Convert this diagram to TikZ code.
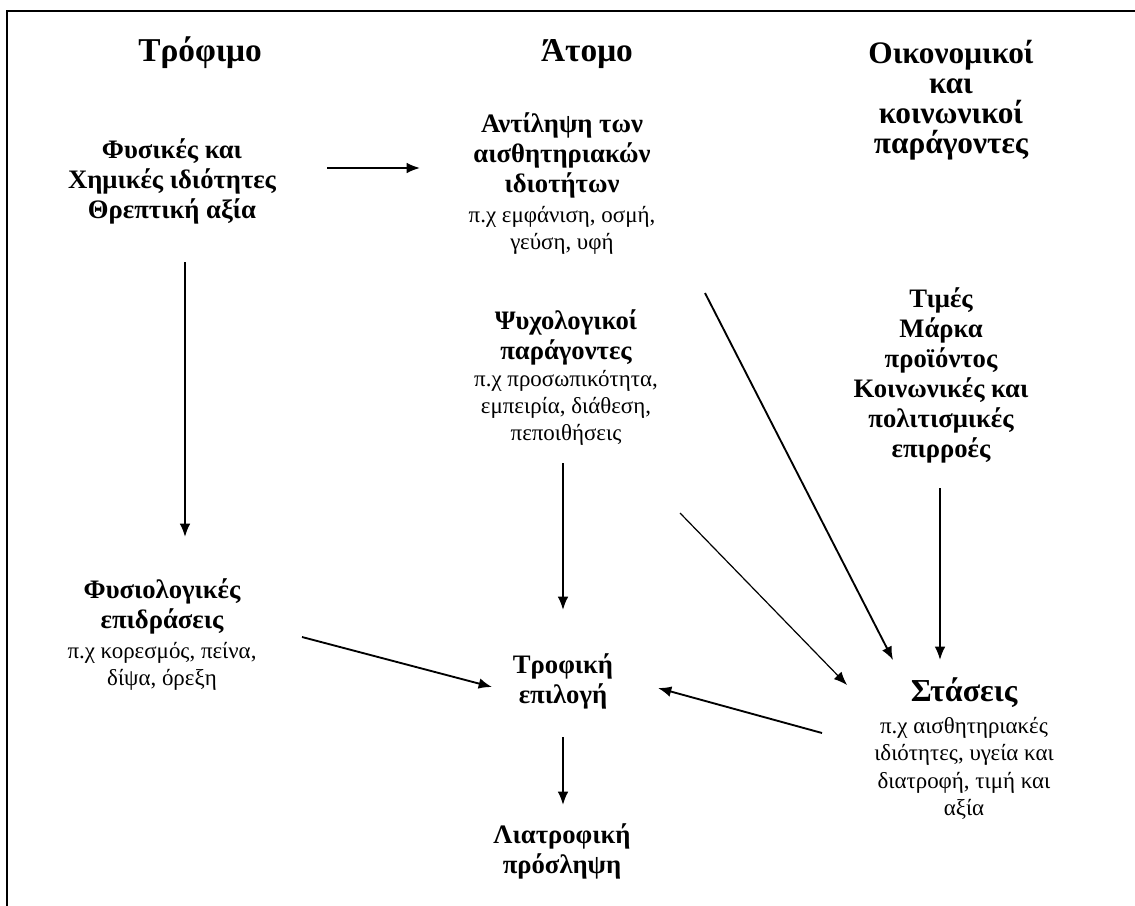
\documentclass[tikz,border=0pt]{standalone}
\usepackage{fontspec}
\setmainfont{Liberation Serif}
\usetikzlibrary{arrows.meta}
\newcommand\bfnt{\fontsize{20}{22.5}\selectfont\bfseries}
\newcommand\ttlfnt{\fontsize{25}{22.5}\selectfont\bfseries}
\newcommand\ecfnt{\fontsize{23.5}{22.5}\selectfont\bfseries}
\newcommand\stfnt{\fontsize{24}{22.5}\selectfont\bfseries}
\newcommand\smfnt{\fontsize{17.2}{20}\selectfont\mdseries}
\tikzset{
  blk/.style={align=center,inner sep=0pt,anchor=base,font=\bfnt},
  arr/.style={line width=1.4pt,-{Latex[length=10pt,width=8pt]}},
  arrthin/.style={line width=0.9pt,-{Latex[length=10pt,width=8pt]}},
}
\begin{document}
\begin{tikzpicture}[x=0.75pt,y=-0.75pt]
\useasboundingbox (0,0) rectangle (1135,906);
\fill[white] (0,0) rectangle (1135,906);
\draw[line width=1.8pt] (7,906) -- (7,11) -- (1135,11);

% column titles (anchor = baseline of last line)
\node[blk,font=\ttlfnt] (food) at (200,62) {Τρόφιμο};
\node[blk,font=\ttlfnt] (person) at (587,62) {Άτομο};
\node[blk,font=\ecfnt] (econ) at (951,153) {Οικονομικοί\\και\\κοινωνικοί\\παράγοντες};

% blocks
\node[blk] (phys) at (172,218) {Φυσικές και\\Χημικές ιδιότητες\\Θρεπτική αξία};
\node[blk] (perc) at (562,249) {Αντίληψη των\\αισθητηριακών\\ιδιοτήτων\\[0pt]
  \smfnt π.χ εμφάνιση, οσμή,\\[-2.4pt] \smfnt γεύση, υφή};
\node[blk] (psych) at (566,440) {Ψυχολογικοί\\παράγοντες\\[-2.2pt]
  \smfnt π.χ προσωπικότητα,\\[-2.4pt] \smfnt εμπειρία, διάθεση,\\[-2.4pt] \smfnt πεποιθήσεις};
\node[blk] (prices) at (941,457) {Τιμές\\Μάρκα\\προϊόντος\\Κοινωνικές και\\πολιτισμικές\\επιρροές};
\node[blk] (physio) at (162,685) {Φυσιολογικές\\επιδράσεις\\[0pt]
  \smfnt π.χ κορεσμός, πείνα,\\[-2.4pt] \smfnt δίψα, όρεξη};
\node[blk] (choice) at (563,703) {Τροφική\\επιλογή};
\node[blk] (intake) at (562,873) {Λιατροφική\\πρόσληψη};
\node[blk] (att) at (964,815) {{\stfnt Στάσεις}\\[1.5pt]
  \smfnt π.χ αισθητηριακές\\[-2.4pt] \smfnt ιδιότητες, υγεία και\\[-1.5pt] \smfnt διατροφή, τιμή και\\[-2.4pt] \smfnt αξία};

% connector end points
\coordinate (physR) at (327,168);  \coordinate (percL) at (420,168);
\coordinate (physB) at (185,262);  \coordinate (physioT) at (185,537);
\coordinate (physioR) at (302,637); \coordinate (choiceL) at (492,687);
\coordinate (psychB) at (563,463); \coordinate (choiceT) at (563,610);
\coordinate (choiceB) at (563,737); \coordinate (intakeT) at (563,805);
\coordinate (attL) at (822,733);   \coordinate (choiceR) at (658,688);
\coordinate (percR) at (705,293);  \coordinate (attT1) at (893,660);
\coordinate (psychR) at (680,513); \coordinate (attT2) at (847,685);
\coordinate (pricesB) at (940,488); \coordinate (attT3) at (940,660);

\draw[arr] (physR) -- (percL);
\draw[arr] (physB) -- (physioT);
\draw[arr] (physioR) -- (choiceL);
\draw[arr] (psychB) -- (choiceT);
\draw[arr] (choiceB) -- (intakeT);
\draw[arr] (attL) -- (choiceR);
\draw[arr] (percR) -- (attT1);
\draw[arrthin] (psychR) -- (attT2);
\draw[arr] (pricesB) -- (attT3);
\end{tikzpicture}
\end{document}
